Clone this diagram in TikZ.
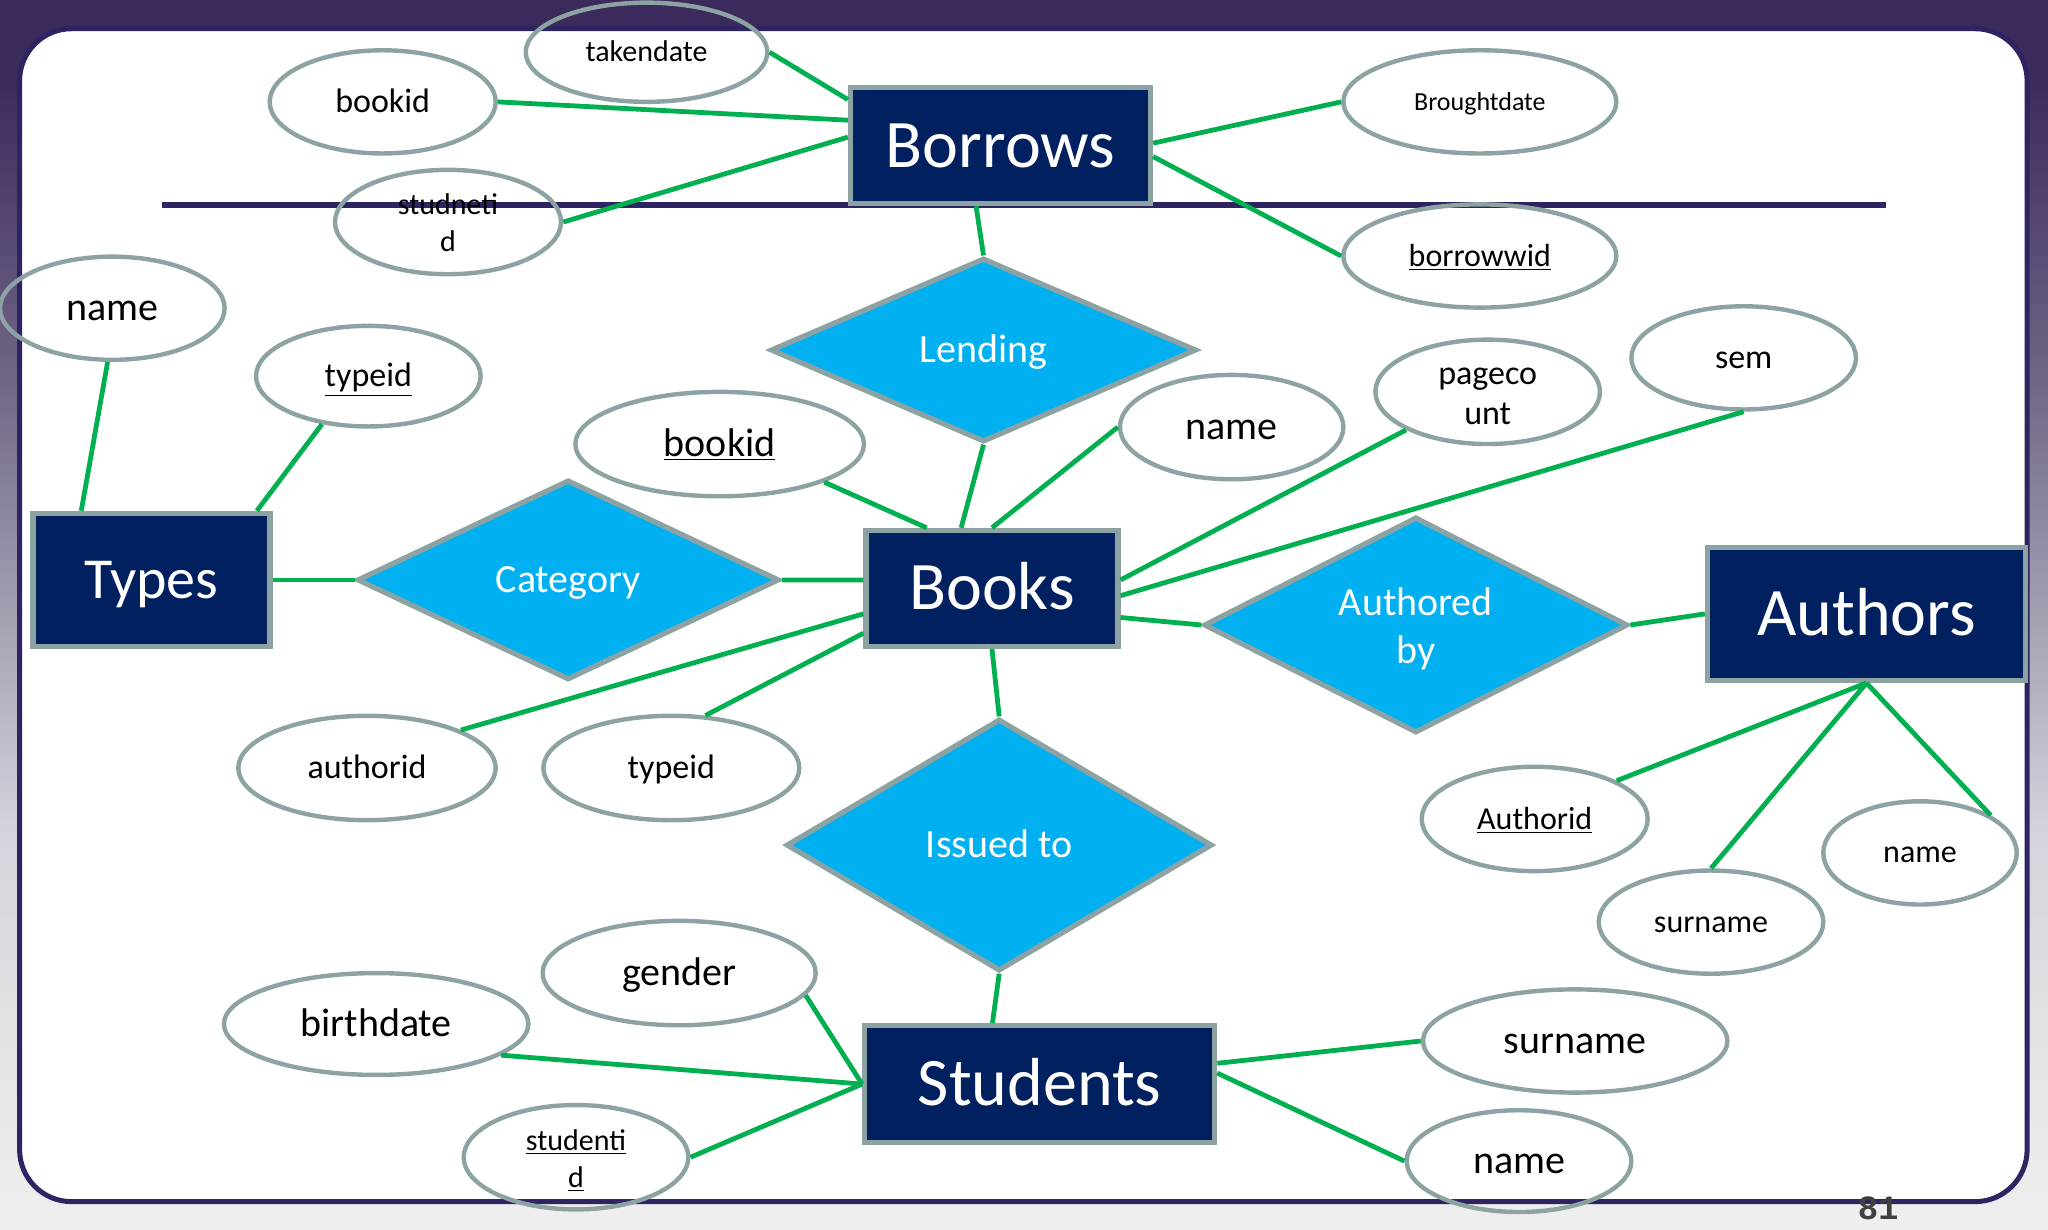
\documentclass[tikz,border=0pt]{standalone}
\usepackage{fontspec}
\setmainfont{Carlito}
\newfontfamily\pgnumfont{Liberation Mono}
\usetikzlibrary{shapes.geometric,calc}
\definecolor{navy}{HTML}{002060}
\definecolor{cyanfill}{HTML}{00B0F0}
\definecolor{greyedge}{HTML}{8DA3A3}
\definecolor{conngreen}{HTML}{00B050}
\definecolor{panelline}{HTML}{2E2462}
\definecolor{bgtop}{HTML}{3B2A5C}
\definecolor{bgmid}{HTML}{6E6384}
\definecolor{bglow}{HTML}{D6D4DC}
\definecolor{bgbot}{HTML}{EFEFEF}
\pgfdeclareverticalshading{bgshade}{100bp}{color(0bp)=(bgbot); color(25bp)=(bgbot); color(41bp)=(bglow); color(60bp)=(bgmid); color(72bp)=(bgtop); color(100bp)=(bgtop)}
\tikzset{
  fs/.style={font=\fontsize{#1}{1.2\dimexpr#1pt\relax}\selectfont, text height={\dimexpr #1pt*63/100\relax}, text depth=0pt},
  attr/.style={ellipse, draw=greyedge, line width=2.2pt, inner sep=0pt, text=black, align=center},
  ent/.style={rectangle, fill=navy, draw=greyedge, line width=2.6pt, text=white, inner sep=0pt},
  rel/.style={diamond, aspect=2, fill=cyanfill, draw=greyedge, line width=2.6pt, text=white, inner sep=0pt, align=center, fs=20},
  conn/.style={draw=conngreen, line width=2.4pt},
}
\begin{document}
\begin{tikzpicture}[x=0.65306pt, y=-0.65306pt]
\useasboundingbox (0,0) rectangle (1568,941);
% background
\shade[shading=bgshade] (0,0) rectangle (1568,941);
\draw[panelline, line width=2.5pt, fill=white, rounded corners=26pt] (15,22) rectangle (1552,920);
% horizontal separator
\coordinate (hlA) at (124,157);
\coordinate (hlB) at (1444,157);
\draw[panelline, line width=3.4pt] (hlA) -- (hlB);
% page number
\node[font=\pgnumfont\bfseries\fontsize{17}{20}\selectfont, text=black!75, inner sep=0pt] (pgnum) at (1438,925) {81};

% attributes
\node[attr, minimum width=120.8pt, minimum height=49.6pt, fs=15] (takendate) at (495,40) {takendate};
\node[attr, minimum width=113pt, minimum height=51.6pt, fs=17] (bookidA) at (293,78) {bookid};
\node[attr, minimum width=113pt, minimum height=52.2pt, font=\fontsize{15}{18.3}\selectfont, text height=29pt, text depth=0pt] (studnetid) at (343,170) {studneti\\d};
\node[attr, minimum width=136.5pt, minimum height=51.6pt, fs=13] (broughtdate) at (1133,78) {Broughtdate};
\node[attr, minimum width=136.5pt, minimum height=51.6pt, fs=16] (borrowwid) at (1133,196) {\underline{borrowwid}};
\node[attr, minimum width=112.3pt, minimum height=51.6pt, fs=20] (nameT) at (86,236) {name};
\node[attr, minimum width=112.3pt, minimum height=50.3pt, fs=17] (typeidT) at (282,288) {\underline{typeid}};
\node[attr, minimum width=144.3pt, minimum height=52.2pt, fs=20] (bookidB) at (551,340) {\underline{bookid}};
\node[attr, minimum width=111.7pt, minimum height=52.2pt, fs=20] (nameB) at (943,327) {name};
\node[attr, minimum width=112.3pt, minimum height=52.2pt, font=\fontsize{17}{20}\selectfont, text height=32.5pt, text depth=0pt] (pagecount) at (1139,300) {pageco\\unt};
\node[attr, minimum width=112.3pt, minimum height=51.6pt, fs=17] (sem) at (1335,274) {sem};
\node[attr, minimum width=128.7pt, minimum height=52.2pt, fs=17] (authoridB) at (281,588) {authorid};
\node[attr, minimum width=128pt, minimum height=52.2pt, fs=17] (typeidB) at (514,588) {typeid};
\node[attr, minimum width=113pt, minimum height=52.2pt, fs=16] (authoridA) at (1175,627) {\underline{Authorid}};
\node[attr, minimum width=96.7pt, minimum height=51.6pt, fs=16] (nameA) at (1470,653) {name};
\node[attr, minimum width=112.3pt, minimum height=51.6pt, fs=16] (surnameA) at (1310,706) {surname};
\node[attr, minimum width=136.5pt, minimum height=52.2pt, fs=20] (gender) at (520,745) {gender};
\node[attr, minimum width=152.2pt, minimum height=50.9pt, fs=20] (birthdate) at (288,784) {birthdate};
\node[attr, minimum width=112.3pt, minimum height=52.2pt, font=\fontsize{15}{18.3}\selectfont, text height=30pt, text depth=0pt] (studentid) at (441,886) {\underline{studenti}\\\underline{d}};
\node[attr, minimum width=152.2pt, minimum height=51.6pt, fs=20] (surnameS) at (1206,797) {surname};
\node[attr, minimum width=112.3pt, minimum height=50.9pt, fs=20] (nameS) at (1163,889) {name};

% entities
\node[ent, minimum width=150pt, minimum height=58pt, fs=34] (borrows) at (766,111.5) {Borrows};
\node[ent, minimum width=118.5pt, minimum height=66.5pt, fs=29] (types) at (116,444) {Types};
\node[ent, minimum width=126pt, minimum height=58pt, fs=34] (books) at (759.5,450.5) {Books};
\node[ent, minimum width=159pt, minimum height=66.5pt, fs=34] (authors) at (1429,470) {Authors};
\node[ent, minimum width=175pt, minimum height=58.5pt, fs=34] (students) at (796,830) {Students};

% relationships
\node[rel, minimum width=213pt, minimum height=92pt] (lending) at (753,268) {Lending};
\node[rel, minimum width=211pt, minimum height=100pt] (category) at (435,444) {Category};
\node[rel, minimum width=212pt, minimum height=108pt, font=\fontsize{20}{24}\selectfont, text height=39pt, text depth=0pt] (authoredby) at (1084,478.5) {Authored\\by};
\node[rel, minimum width=213pt, minimum height=126pt] (issuedto) at (765,647) {Issued to};

% connectors
\draw[conn] (takendate.east) -- ($(borrows.north west)!0.12!(borrows.south west)$);
\draw[conn] (bookidA.east) -- ($(borrows.north west)!0.29!(borrows.south west)$);
\draw[conn] (studnetid.east) -- ($(borrows.north west)!0.43!(borrows.south west)$);
\draw[conn] ($(borrows.north east)!0.48!(borrows.south east)$) -- (broughtdate.west);
\draw[conn] ($(borrows.north east)!0.59!(borrows.south east)$) -- (borrowwid.west);
\draw[conn] ($(borrows.south west)!0.42!(borrows.south east)$) -- (lending.north);
\draw[conn] (lending.south) -- ($(books.north west)!0.38!(books.north east)$);
\draw[conn] (nameT.265) -- ($(types.north west)!0.21!(types.north east)$);
\draw[conn] (typeidT.226) -- ($(types.north west)!0.935!(types.north east)$);
\draw[conn] (types.east) -- (category.west);
\draw[conn] (category.east) -- ($(books.north west)!0.43!(books.south west)$);
\draw[conn] (bookidB.340) -- ($(books.north west)!0.246!(books.north east)$);
\draw[conn] (nameB.west) -- (books.north);
\draw[conn] (pagecount.205) -- ($(books.north east)!0.43!(books.south east)$);
\draw[conn] (sem.south) -- ($(books.north east)!0.56!(books.south east)$);
\draw[conn] ($(books.north east)!0.74!(books.south east)$) -- (authoredby.west);
\draw[conn] (authoredby.east) -- (authors.west);
\draw[conn] ($(books.north west)!0.71!(books.south west)$) -- (authoridB.22);
\draw[conn] ($(books.north west)!0.87!(books.south west)$) -- (typeidB.57);
\draw[conn] (books.south) -- (issuedto.north);
\draw[conn] (issuedto.south) -- ($(students.north west)!0.367!(students.north east)$);
\draw[conn] (authors.south) -- (authoridA.25);
\draw[conn] (authors.south) -- (surnameA.north);
\draw[conn] (authors.south) -- (nameA.28);
\draw[conn] (gender.350) -- (students.west);
\draw[conn] (birthdate.346) -- (students.west);
\draw[conn] (studentid.east) -- (students.west);
\draw[conn] ($(students.north east)!0.33!(students.south east)$) -- (surnameS.west);
\draw[conn] ($(students.north east)!0.41!(students.south east)$) -- (nameS.west);
\end{tikzpicture}
\end{document}
